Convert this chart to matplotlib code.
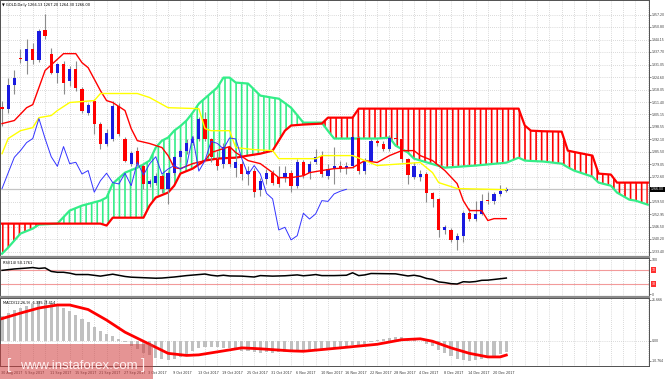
import numpy as np
import matplotlib.pyplot as plt
from matplotlib.patches import Rectangle
from matplotlib.lines import Line2D
from matplotlib.transforms import blended_transform_factory

plt.rcParams['hatch.linewidth'] = 1.2

# GOLD daily candles, 30 Aug 2017 .. 22 Dec 2017
opens = [1309.2, 1308.1, 1320.6, 1334.6, 1333.2, 1339.4, 1333.7, 1349.4, 1336.8, 1326.9,
         1331.6, 1322.7, 1329.0, 1318.6, 1306.0, 1312.3, 1300.3, 1289.9, 1292.5, 1309.7,
         1292.5, 1279.4, 1285.8, 1278.4, 1269.0, 1269.4, 1273.0, 1266.4, 1274.6, 1282.7,
         1286.2, 1290.4, 1292.5, 1302.9, 1292.5, 1282.0, 1279.4, 1288.3, 1277.0, 1279.3,
         1274.0, 1275.8, 1265.5, 1271.4, 1274.4, 1272.6, 1272.6, 1274.4, 1267.9, 1280.1,
         1274.4, 1280.1, 1283.6, 1273.1, 1276.6, 1278.4, 1277.0, 1278.0, 1293.0, 1275.5,
         1281.0, 1291.0, 1289.7, 1287.1, 1292.8, 1292.3, 1281.9, 1272.6, 1272.6, 1274.0,
         1263.9, 1261.0, 1244.8, 1244.8, 1239.6, 1241.8, 1253.5, 1250.5, 1253.2, 1260.5,
         1259.7, 1263.3, 1265.0]
highs = [1312.3, 1324.0, 1328.5, 1339.4, 1344.7, 1342.1, 1349.9, 1357.7, 1340.0, 1332.1,
         1333.2, 1330.6, 1333.0, 1319.6, 1311.3, 1313.3, 1301.3, 1297.7, 1312.3, 1311.3,
         1293.5, 1286.2, 1288.3, 1279.4, 1271.6, 1274.6, 1274.0, 1275.6, 1283.6, 1287.2,
         1292.0, 1294.0, 1304.0, 1306.5, 1293.0, 1286.0, 1290.0, 1291.0, 1284.0, 1281.0,
         1278.0, 1277.0, 1272.0, 1276.5, 1276.0, 1278.0, 1278.0, 1276.0, 1282.0, 1281.5,
         1281.0, 1287.2, 1286.0, 1279.0, 1288.0, 1281.0, 1280.0, 1295.0, 1294.0, 1282.5,
         1292.0, 1292.5, 1291.0, 1294.5, 1295.5, 1293.0, 1282.5, 1280.0, 1276.0, 1275.0,
         1264.5, 1261.5, 1247.5, 1246.0, 1243.0, 1254.5, 1256.0, 1259.7, 1263.5, 1264.8,
         1264.5, 1268.5, 1267.0]
lows = [1299.3, 1306.0, 1316.0, 1332.1, 1326.4, 1331.6, 1332.7, 1344.7, 1326.4, 1321.7,
        1316.0, 1320.0, 1317.5, 1306.0, 1305.0, 1295.0, 1287.2, 1288.8, 1291.4, 1294.0,
        1280.0, 1278.4, 1278.0, 1266.4, 1267.4, 1268.4, 1264.3, 1258.5, 1273.5, 1280.5,
        1284.6, 1289.0, 1291.4, 1291.0, 1280.0, 1276.0, 1277.0, 1277.5, 1272.3, 1271.0,
        1268.0, 1262.0, 1262.5, 1269.0, 1268.0, 1267.0, 1270.0, 1264.5, 1266.5, 1272.0,
        1271.5, 1279.0, 1272.5, 1271.5, 1268.8, 1275.0, 1274.0, 1277.0, 1274.0, 1274.0,
        1280.0, 1288.5, 1286.0, 1286.0, 1290.5, 1280.5, 1269.0, 1271.5, 1270.5, 1259.5,
        1256.6, 1241.0, 1242.5, 1238.4, 1234.4, 1238.4, 1249.5, 1249.5, 1252.5, 1258.5,
        1258.5, 1262.5, 1264.5]
closes = [1308.1, 1320.6, 1324.3, 1334.0, 1339.4, 1333.7, 1348.8, 1346.2, 1326.9, 1331.6,
          1321.7, 1329.0, 1319.0, 1307.1, 1310.2, 1300.3, 1289.9, 1295.6, 1309.7, 1295.1,
          1281.0, 1285.2, 1279.4, 1269.0, 1270.5, 1273.0, 1266.4, 1274.6, 1282.7, 1286.2,
          1290.4, 1292.5, 1302.9, 1292.5, 1283.0, 1278.0, 1288.3, 1279.4, 1280.1, 1274.0,
          1275.8, 1264.5, 1270.5, 1274.4, 1269.5, 1268.8, 1274.4, 1267.9, 1280.1, 1273.5,
          1279.3, 1283.0, 1274.0, 1276.6, 1278.4, 1276.6, 1278.2, 1293.5, 1275.5, 1281.0,
          1291.0, 1290.0, 1287.1, 1292.8, 1292.3, 1281.9, 1273.7, 1278.4, 1274.0, 1263.9,
          1261.0, 1244.8, 1246.2, 1239.6, 1241.8, 1253.5, 1250.5, 1253.2, 1260.1, 1259.7,
          1263.6, 1265.0, 1266.0]

# Ichimoku lines (bar index, price)
tenkan_idx = [0, 2, 4, 5, 7, 10, 12, 13, 14, 16, 17, 18, 20, 21, 22, 24, 26, 27, 28, 29,
              31, 33, 34, 37, 38, 40, 42, 44, 45, 47, 49, 50, 52, 54, 57, 59, 61, 63, 65, 67,
              68, 70, 72, 74, 75, 76, 78, 79, 80, 82]
tenkan_val = [1300.3, 1301.9, 1308.6, 1310.2, 1328.0, 1336.8, 1336.8, 1332.1, 1329.5, 1317.5,
              1312.3, 1311.3, 1307.1, 1297.7, 1291.4, 1289.9, 1287.8, 1283.6, 1277.3, 1276.8,
              1279.4, 1281.0, 1285.2, 1288.3, 1285.2, 1281.0, 1279.4, 1274.7, 1272.1, 1272.1,
              1273.1, 1274.7, 1275.8, 1276.8, 1277.3, 1281.0, 1280.0, 1283.6, 1286.2, 1286.2,
              1283.6, 1281.0, 1275.8, 1269.0, 1260.1, 1254.9, 1254.9, 1249.7, 1250.7, 1250.7]
kijun_idx = [0, 1, 3, 5, 6, 8, 9, 11, 15, 16, 22, 24, 27, 32, 33, 34, 37, 38, 41, 44,
             45, 51, 52, 57, 61, 68, 70, 71, 74, 82]
kijun_val = [1284.6, 1292.5, 1296.6, 1298.2, 1303.4, 1304.5, 1307.1, 1311.3, 1312.3, 1316.0,
             1316.0, 1313.9, 1308.6, 1308.1, 1297.7, 1296.6, 1296.6, 1287.8, 1286.7, 1286.2,
             1282.0, 1282.0, 1283.6, 1283.6, 1278.4, 1280.0, 1274.7, 1269.5, 1266.4, 1265.8]
cloud_idx = [0, 1, 3, 5, 6, 9, 11, 13, 16, 17, 18, 20, 22, 23, 24, 25, 26, 27, 28, 29,
             30, 31, 32, 33, 35, 36, 37, 38, 40, 42, 44, 45, 46, 47, 49, 52, 53, 54, 57, 58,
             61, 63, 64, 66, 67, 72, 77, 82, 84, 85, 86, 88, 91, 92, 93, 96, 97, 99, 100, 102,
             103, 105]
senkou_a = [1232.4, 1235.6, 1242.9, 1245.5, 1247.6, 1248.1, 1254.9, 1257.5, 1260.1, 1261.7,
            1269.0, 1274.7, 1277.3, 1279.0, 1281.0, 1287.8, 1291.4, 1293.0, 1296.6, 1299.0,
            1301.9, 1306.0, 1310.7, 1313.5, 1319.1, 1324.3, 1324.3, 1321.7, 1321.2, 1314.9,
            1313.8, 1313.3, 1311.0, 1308.6, 1300.8, 1300.8, 1296.5, 1292.5, 1292.5, 1292.5,
            1292.5, 1293.0, 1288.8, 1285.2, 1282.0, 1277.3, 1278.4, 1279.9, 1282.5, 1281.0,
            1280.8, 1280.5, 1279.4, 1277.5, 1275.8, 1272.6, 1269.5, 1267.9, 1264.3, 1260.6,
            1260.1, 1258.0]
senkou_b = [1248.1, 1248.1, 1248.1, 1248.1, 1248.1, 1248.1, 1248.1, 1248.1, 1248.1, 1247.1,
            1251.2, 1251.2, 1251.2, 1251.2, 1257.5, 1261.7, 1263.0, 1264.3, 1267.9, 1274.2,
            1275.5, 1276.8, 1279.0, 1281.0, 1282.0, 1282.2, 1282.4, 1282.5, 1283.6, 1284.6,
            1286.2, 1291.4, 1296.6, 1299.3, 1299.8, 1300.3, 1303.4, 1303.4, 1303.4, 1308.1,
            1308.1, 1308.1, 1308.1, 1308.1, 1308.1, 1308.1, 1308.1, 1308.1, 1308.1, 1299.3,
            1296.6, 1296.3, 1296.1, 1286.2, 1285.5, 1283.6, 1274.2, 1273.7, 1269.5, 1269.5,
            1269.5, 1269.5]

# RSI(14)
rsi_idx = [0, 2, 4, 5, 6, 7, 8, 9, 10, 11, 12, 14, 16, 18, 20, 21, 23, 25, 26, 28,
           30, 32, 33, 34, 35, 36, 37, 39, 41, 42, 44, 46, 48, 49, 50, 51, 52, 54, 56, 57,
           58, 59, 60, 62, 64, 66, 67, 68, 69, 70, 71, 72, 73, 74, 75, 76, 77, 78, 79, 80,
           81, 82]
rsi_val = [69, 73, 75.5, 77, 74.5, 76, 66, 63.5, 63.5, 61, 57, 57, 52.5, 58, 51.5, 49.5, 48, 46.5, 47, 50,
           54, 57, 58.5, 55, 53, 55, 53, 52.5, 50, 54, 52.5, 53.5, 56, 53.5, 55, 57, 54, 54, 55, 62,
           54, 56, 60, 59.5, 59, 53, 55, 52, 46, 43, 36, 34, 31, 30, 36.5, 35.5, 37, 40.5, 41, 43,
           45, 47]

# MACD(12,26,9)
macd_hist = [13.2, 14.8, 16.0, 17.2, 18.4, 19.5, 20.8, 21.67, 20.0, 19.0,
             17.2, 15.6, 13.6, 11.2, 10.0, 7.4, 5.2, 3.6, 2.6, 0.9,
             -1.0, -2.8, -4.6, -6.4, -7.6, -9.0, -9.8, -10.3, -10.0, -8.8,
             -7.2, -5.6, -4.2, -3.4, -3.3, -3.6, -3.8, -4.2, -4.8, -5.4,
             -5.8, -6.3, -6.5, -6.3, -6.4, -6.2, -6.1, -6.2, -5.6, -5.5,
             -5.2, -4.9, -4.8, -4.4, -3.9, -3.2, -3.0, -2.2, -2.6, -1.6,
             -0.6, 0.2, 0.9, 1.5, 2.0, 1.6, 0.8, 0.6, -0.5, -1.8,
             -3.0, -5.2, -6.8, -8.4, -9.6, -10.5, -10.76, -10.2, -9.6, -9.0,
             -8.2, -7.2, -6.0]
signal_idx = [0, 3, 6, 9, 11, 14, 17, 20, 24, 27, 30, 32, 36, 39, 42, 47, 49, 55, 61, 65,
              68, 70, 73, 76, 79, 81, 82]
signal_val = [11.6, 14.5, 17.2, 18.8, 18.8, 16.4, 10.8, 4.4, -2.0, -6.8, -7.9, -7.6, -5.5, -3.9,
              -4.4, -5.5, -5.7, -3.9, -2.0, 0.4, 0.9, -0.4, -3.9, -6.8, -8.7, -8.7, -7.7]

price_labels = ['1357.20', '1350.80', '1344.15', '1337.70', '1331.05', '1324.60', '1318.05',
                '1311.40', '1305.15', '1298.55', '1292.10', '1285.50', '1279.05', '1272.60',
                '1259.50', '1252.95', '1246.50', '1240.20', '1233.40']
date_labels = ['30 Aug 2017', '5 Sep 2017', '11 Sep 2017', '15 Sep 2017', '21 Sep 2017',
               '27 Sep 2017', '3 Oct 2017', '9 Oct 2017', '13 Oct 2017', '19 Oct 2017',
               '25 Oct 2017', '31 Oct 2017', '6 Nov 2017', '10 Nov 2017', '16 Nov 2017',
               '22 Nov 2017', '28 Nov 2017', '4 Dec 2017', '8 Dec 2017', '14 Dec 2017',
               '20 Dec 2017']

o = np.array(opens); h = np.array(highs); l = np.array(lows); c = np.array(closes)
idx = np.arange(len(c))
ca = np.array(senkou_a); cb = np.array(senkou_b); cx = np.array(cloud_idx)

GREEN = '#33ee88'
RED = '#ff0000'
BLUE = '#1a1ae0'
GRIDC = '#b8b8b8'
LABEL_FS = 2.25

W, H = 665, 379
fig = plt.figure(figsize=(6.65, 3.79), dpi=100)


def panel(top, bottom):
    return fig.add_axes([0, 1 - bottom / H, 649 / W, (bottom - top) / H])


ax = panel(0, 256)
ax_rsi = panel(258, 296)
ax_macd = panel(298, 366)

for a in (ax, ax_rsi, ax_macd):
    a.set_xlim(-0.33, 105.2)
    a.set_xticks(np.arange(1, 106, 2))
    a.tick_params(axis='x', length=0, labelbottom=False)
    a.grid(True, axis='x', color=GRIDC, linestyle=(0, (1, 2)), linewidth=0.5)
    a.yaxis.tick_right()
    a.tick_params(axis='y', length=1.2, width=0.4, pad=0.6, labelsize=LABEL_FS, colors='#333333')
    for s in a.spines.values():
        s.set_color('#505050')
        s.set_linewidth(0.7)
    a.set_axisbelow(True)

# main chart
ax.set_ylim(1231.2, 1364.8)
ax.set_yticks([float(p) for p in price_labels])
ax.set_yticklabels(price_labels)
ax.grid(True, axis='y', color=GRIDC, linestyle=(0, (1, 2)), linewidth=0.5)
ax.axhline(c[-1], color='#c4c4c4', lw=0.9, zorder=0.5)

ax.fill_between(cx, ca, cb, where=ca >= cb, interpolate=True, facecolor='none',
                edgecolor=GREEN, hatch='|||', linewidth=0, zorder=1)
ax.fill_between(cx, ca, cb, where=ca < cb, interpolate=True, facecolor='none',
                edgecolor=RED, hatch='|||', linewidth=0, zorder=1)
ax.plot(cx, ca, color=GREEN, lw=1.6, zorder=2)
ax.plot(cx, cb, color=RED, lw=1.6, zorder=2)

up = c >= o
ax.vlines(idx, l, h, color='#8c8c8c', lw=0.8, zorder=3)
ax.bar(idx, np.maximum(np.abs(c - o), 0.35), bottom=np.minimum(o, c), width=0.52,
       color=np.where(up, BLUE, RED), linewidth=0, zorder=4)

ax.plot(tenkan_idx, tenkan_val, color=RED, lw=1.0, zorder=5)
ax.plot(kijun_idx, kijun_val, color='#ffff00', lw=1.0, zorder=5)
ax.plot(idx[26:] - 26, c[26:], color='#3333ff', lw=0.7, zorder=5)

ax.text(1.003, c[-1], '%.2f' % c[-1], transform=ax.get_yaxis_transform(), fontsize=LABEL_FS,
        color='white', va='center', ha='left',
        bbox=dict(facecolor='black', edgecolor='none', pad=0.5))
ax.text(0.003, 0.988, '\u25bc GOLD,Daily 1266.13 1267.20 1264.30 1266.00', transform=ax.transAxes,
        fontsize=2.6, va='top', ha='left')

# RSI
ax_rsi.set_ylim(-4.3, 104.3)
ax_rsi.set_yticks([100, 0])
ax_rsi.set_yticklabels(['100', '0'])
ax_rsi.axhline(70, color='#f29a9a', lw=0.8)
ax_rsi.axhline(30, color='#f29a9a', lw=0.8)
ax_rsi.plot(rsi_idx, rsi_val, color='black', lw=1.1)
for lvl in (70, 30):
    ax_rsi.text(1.004, lvl, str(lvl), transform=ax_rsi.get_yaxis_transform(), fontsize=LABEL_FS,
                color='white', va='center', ha='left',
                bbox=dict(facecolor='#ff3030', edgecolor='none', pad=0.6))
ax_rsi.text(0.004, 0.93, 'RSI(14) 50.1761', transform=ax_rsi.transAxes, fontsize=2.6,
            va='top', ha='left')

# MACD
ax_macd.set_ylim(-13.5, 22.5)
ax_macd.set_yticks([21.666, 0, -10.764])
ax_macd.set_yticklabels(['21.666', '0.00', '-10.764'])
ax_macd.axhline(0, color=GRIDC, linestyle=(0, (1, 2)), lw=0.5)
ax_macd.bar(idx, macd_hist, width=0.5, color='#c0c0c0', zorder=2)
ax_macd.plot(signal_idx, signal_val, color=RED, lw=2.0, zorder=3)
ax_macd.text(0.004, 0.95, 'MACD(12,26,9) -6.335 -7.414', transform=ax_macd.transAxes,
             fontsize=2.6, va='top', ha='left')

trans = blended_transform_factory(ax_macd.transData, ax_macd.transAxes)
for k, lab in enumerate(date_labels):
    ax_macd.text(k * 4 - 0.2, -0.105, lab, transform=trans, fontsize=2.4,
                 va='center', ha='left', color='#333333', clip_on=False)

# panel separators
for ypix in (257, 297):
    fig.add_artist(Line2D([0, 649 / W], [1 - ypix / H] * 2, color='#8a8a8a', lw=1.6))

# watermark
fig.add_artist(Rectangle((0, 0), 153 / W, 35 / H, transform=fig.transFigure,
                         facecolor=(0.82, 0.24, 0.24, 0.55), edgecolor='none', zorder=10))
fig.text(20 / W, 1 - 366 / H, 'www.instaforex.com', fontsize=9.5, color='#fff0f0',
         family='Liberation Sans', va='center', ha='left', zorder=11)
fig.text(7 / W, 1 - 365 / H, '[', fontsize=11, color='#fff0f0', family='Liberation Sans',
         va='center', ha='left', zorder=11)
fig.text(141 / W, 1 - 365 / H, ']', fontsize=11, color='#fff0f0', family='Liberation Sans',
         va='center', ha='left', zorder=11)

fig.savefig('out.png', dpi=100, facecolor='white')
